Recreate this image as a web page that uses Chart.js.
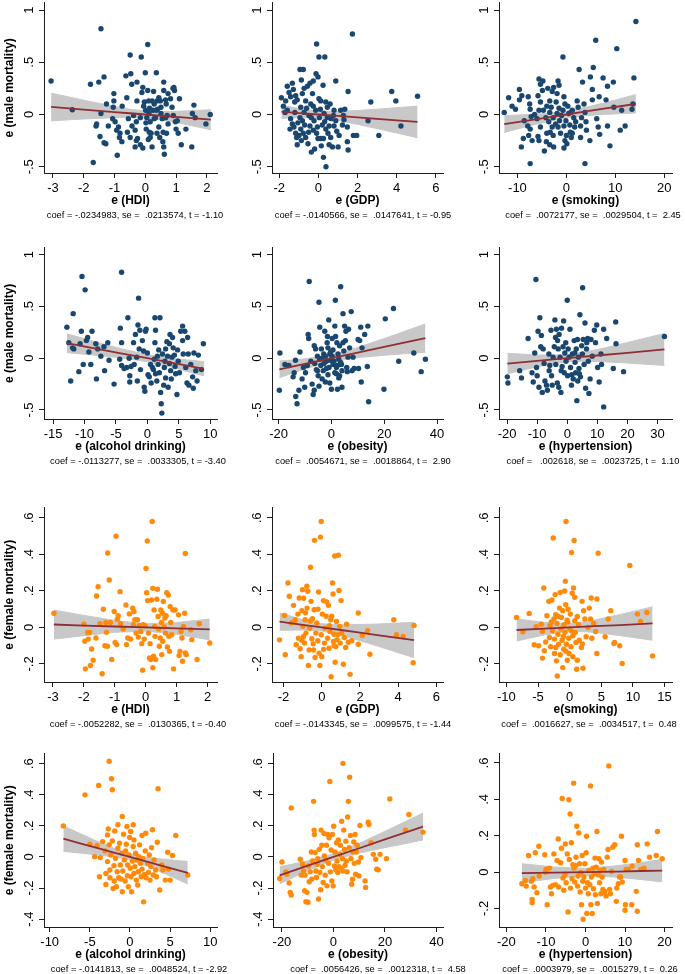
<!DOCTYPE html>
<html>
<head>
<meta charset="utf-8">
<script src="https://cdn.jsdelivr.net/npm/chart.js@4.4.1/dist/chart.umd.min.js"></script>
<style>
html, body { margin: 0; padding: 0; background: #fff; overflow: hidden; }
#wrap { position: relative; width: 685px; height: 974px; }
#wrap canvas { position: absolute; }
</style>
</head>
<body>
<div id="wrap"></div>
<script>
'use strict';

// ---- tick values and labels ----
let yTicksMale = [-0.5, 0, 0.5, 1];
let yLabelsMale = ['-.5', '0', '.5', '1'];
let yTicksFem = [-0.2, 0, 0.2, 0.4, 0.6];
let yLabelsFem = ['-.2', '0', '.2', '.4', '.6'];
let yTicksFem2 = [-0.4, -0.2, 0, 0.2, 0.4, 0.6];
let yLabelsFem2 = ['-.4', '-.2', '0', '.2', '.4', '.6'];
let xTicksHDI = [-3, -2, -1, 0, 1, 2];
let xTicksGDP = [-2, 0, 2, 4, 6];
let xTicksSmokeM = [-10, 0, 10, 20];
let xTicksAlcM = [-15, -10, -5, 0, 5, 10];
let xTicksObes = [-20, 0, 20, 40];
let xTicksHypM = [-20, -10, 0, 10, 20, 30];
let xTicksSmokeF = [-10, -5, 0, 5, 10, 15];
let xTicksAlcF = [-10, -5, 0, 5, 10];
let xTicksHypF = [-20, -10, 0, 10, 20];

let xTitles = ['e (HDI)', 'e (GDP)', 'e (smoking)', 'e (alcohol drinking)', 'e (obesity)', 'e (hypertension)',
    'e (HDI)', 'e (GDP)', 'e(smoking)', 'e (alcohol drinking)', 'e (obesity)', 'e (hypertension)'];
let yTitleMale = 'e (male mortality)';
let yTitleFem = 'e (female mortality)';
let captions = [
    'coef = -.0234983, se =  .0213574, t = -1.10',
    'coef = -.0140566, se =  .0147641, t = -0.95',
    'coef =  .0072177, se =  .0029504, t =  2.45',
    'coef = -.0113277, se =  .0033305, t = -3.40',
    'coef =  .0054671, se =  .0018864, t =  2.90',
    'coef =   .002618, se =  .0023725, t =  1.10',
    'coef = -.0052282, se =  .0130365, t = -0.40',
    'coef = -.0143345, se =  .0099575, t = -1.44',
    'coef =  .0016627, se =  .0034517, t =  0.48',
    'coef = -.0141813, se =  .0048524, t = -2.92',
    'coef =  .0056426, se =  .0012318, t =  4.58',
    'coef =  .0003979, se =  .0015279, t =  0.26'
];

// ---- scatter points [x, y] ----
let maleHDI = [[-3.06,0.32],[-2.37,0.045],[-1.78,0.29],[-1.51,0.31],[-1.44,0.82],[-1.34,0.36],[-1.26,0.10],[-1.44,0.01],[-1.58,-0.09],[-1.60,-0.11],[-1.20,-0.11],[-1.47,-0.21],[-1.34,-0.27],[-1.28,-0.28],[-1.69,-0.46],[-0.91,-0.39],[-1.02,0.20],[-1.02,0.13],[-1.04,0.07],[-1.06,-0.04],[-0.98,-0.07],[-0.93,-0.15],[-0.87,-0.12],[-0.82,-0.18],[-0.84,-0.22],[-0.76,-0.26],[-0.75,0.08],[-0.63,0.37],[-0.60,0.16],[-0.49,0.57],[-0.47,0.39],[-0.44,0.29],[-0.38,-0.01],[-0.55,-0.04],[-0.58,-0.17],[-0.49,-0.22],[-0.43,-0.11],[-0.33,-0.31],[-0.27,0.31],[-0.27,0.13],[-0.29,-0.07],[-0.33,-0.15],[-0.25,-0.23],[-0.29,-0.25],[-0.16,-0.29],[-0.13,0.55],[-0.08,0.26],[-0.11,0.21],[-0.16,-0.03],[-0.08,-0.32],[0.0,0.40],[-0.03,0.12],[-0.05,0.08],[0.01,0.04],[0.05,-0.03],[0.03,-0.14],[0.08,0.67],[0.08,0.23],[0.11,0.13],[0.14,0.06],[0.12,0.01],[0.16,-0.07],[0.13,-0.17],[0.16,-0.22],[0.22,-0.31],[0.27,0.22],[0.29,0.10],[0.25,0.04],[0.33,-0.03],[0.36,0.40],[0.38,0.13],[0.40,0.05],[0.44,-0.12],[0.38,-0.18],[0.47,-0.22],[0.49,0.13],[0.51,0.01],[0.55,-0.04],[0.58,-0.17],[0.60,0.31],[0.60,0.23],[0.57,-0.26],[0.60,-0.31],[0.62,-0.38],[0.66,0.14],[0.68,0.10],[0.71,-0.01],[0.69,-0.18],[0.74,0.20],[0.82,0.15],[0.87,0.07],[0.91,-0.01],[0.90,0.25],[0.95,0.23],[0.98,-0.07],[1.00,-0.14],[1.04,-0.06],[0.93,0.26],[1.11,0.15],[1.07,-0.18],[1.17,-0.29],[1.32,-0.14],[1.51,-0.31],[1.53,0.01],[1.58,0.09],[1.62,-0.03],[1.97,-0.09],[2.11,0.0],[0.22,0.13],[0.29,-0.04],[0.02,-0.08],[0.10,-0.24],[0.19,-0.18],[0.36,0.04],[0.44,0.16],[0.51,0.07],[0.66,-0.03],[0.74,-0.09]];

let maleGDP = [[-1.89,0.16],[-1.67,0.13],[-1.79,0.08],[-1.59,0.27],[-1.33,0.30],[-1.50,0.21],[-1.42,0.17],[-1.28,0.24],[-1.16,0.18],[-1.08,0.14],[-1.21,0.12],[-1.59,0.04],[-1.42,-0.04],[-1.33,-0.09],[-1.45,-0.14],[-1.25,-0.12],[-1.16,-0.18],[-1.11,-0.22],[-1.08,-0.29],[-0.94,0.43],[-0.77,0.43],[-0.87,0.33],[-0.73,0.25],[-0.56,0.27],[-0.43,0.30],[-0.82,0.20],[-0.65,0.13],[-0.90,0.07],[-0.73,0.02],[-0.94,-0.03],[-0.82,-0.06],[-0.70,-0.10],[-0.90,-0.14],[-0.77,-0.18],[-0.99,-0.20],[-0.65,-0.22],[-0.87,-0.25],[-0.53,-0.28],[-0.36,-0.36],[-0.19,-0.33],[-0.09,0.675],[0.03,0.55],[0.33,0.55],[-0.12,0.39],[-0.02,0.36],[-0.26,0.32],[0.24,0.28],[0.03,0.15],[0.12,0.13],[-0.39,0.10],[-0.26,0.08],[-0.14,0.04],[-0.48,-0.01],[-0.36,-0.03],[-0.22,-0.06],[-0.43,-0.11],[-0.05,-0.12],[-0.26,-0.15],[-0.09,-0.18],[0.12,-0.23],[0.26,-0.23],[-0.02,-0.23],[0.15,-0.30],[0.26,-0.41],[0.39,-0.50],[0.38,0.12],[0.46,0.07],[0.60,0.10],[0.29,0.01],[0.46,-0.03],[0.32,-0.07],[0.55,-0.11],[0.38,-0.14],[0.49,-0.18],[0.63,-0.22],[0.55,-0.29],[0.72,-0.31],[0.89,0.32],[0.80,0.04],[0.77,-0.01],[0.89,-0.06],[0.80,-0.11],[0.94,-0.16],[1.01,-0.31],[1.06,-0.20],[1.14,0.04],[1.23,-0.10],[1.35,0.05],[1.28,-0.01],[1.31,-0.05],[1.48,-0.12],[1.52,0.22],[1.48,-0.26],[1.52,-0.34],[1.74,0.77],[1.79,-0.20],[1.96,-0.20],[2.54,-0.06],[2.68,0.12],[3.09,-0.20],[3.75,0.22],[3.96,0.13],[4.22,-0.11],[5.07,0.175],[-1.70,0.02],[-1.20,0.02],[-1.05,-0.08],[-0.60,0.06],[-0.50,-0.17],[-0.30,0.20],[0.05,-0.03],[0.10,0.05],[0.20,-0.10],[0.65,-0.04]];

let maleSmoking = [[-12.7,0.02],[-11.8,0.16],[-11.1,0.08],[-10.4,0.05],[-9.6,0.24],[-9.1,0.18],[-9.6,0.14],[-8.6,-0.06],[-8.8,-0.23],[-9.2,-0.31],[-7.8,0.17],[-7.5,0.10],[-7.4,0.05],[-7.2,-0.02],[-7.9,-0.11],[-7.4,-0.14],[-7.7,-0.20],[-7.0,-0.25],[-7.4,-0.47],[-5.6,0.34],[-4.8,0.32],[-5.3,0.29],[-4.9,0.23],[-5.8,0.18],[-5.3,0.12],[-5.6,0.04],[-6.0,-0.04],[-5.3,-0.12],[-5.8,-0.21],[-5.6,-0.25],[-4.7,0.04],[-4.2,-0.03],[-4.0,-0.18],[-4.1,-0.26],[-4.5,-0.35],[-3.8,0.25],[-2.9,0.22],[-2.6,0.26],[-3.4,0.13],[-3.1,0.07],[-3.4,0.02],[-2.7,-0.03],[-3.6,-0.07],[-2.9,-0.12],[-3.3,-0.17],[-2.7,-0.20],[-3.4,-0.29],[-2.6,-0.31],[-1.7,0.32],[-1.5,0.28],[-1.9,0.20],[-2.1,0.12],[-1.5,0.06],[-1.9,0.01],[-1.4,-0.06],[-1.7,-0.12],[-1.2,-0.18],[-0.7,0.55],[-0.5,0.17],[-0.3,0.10],[-0.7,0.04],[-0.1,-0.06],[-0.5,-0.11],[0.0,-0.20],[-0.3,-0.25],[0.1,-0.28],[-0.5,-0.32],[0.5,0.01],[0.7,-0.10],[0.8,-0.17],[1.0,-0.22],[1.2,0.04],[1.5,-0.03],[1.7,-0.12],[1.2,-0.18],[2.2,0.13],[2.4,0.07],[2.6,0.43],[3.1,-0.03],[3.3,0.31],[2.9,-0.11],[2.9,-0.22],[3.6,0.10],[3.8,0.02],[4.0,-0.07],[4.1,-0.15],[3.8,-0.47],[4.9,0.36],[4.8,-0.25],[5.3,0.24],[5.3,0.14],[5.5,0.45],[6.0,0.71],[6.2,-0.04],[6.7,0.17],[6.5,-0.12],[6.8,-0.19],[7.5,0.35],[8.1,0.14],[8.4,0.27],[8.4,-0.11],[8.9,-0.30],[9.6,0.31],[9.7,0.07],[10.3,0.63],[11.0,-0.15],[11.3,0.04],[12.0,-0.11],[13.4,0.05],[13.8,0.35],[13.6,0.10],[14.2,0.89],[-6.5,0.00],[-4.0,0.08],[-2.2,-0.09],[-1.0,-0.01],[0.3,0.08],[1.9,-0.07],[0.9,0.02]];

let maleAlcohol = [[-12.8,0.30],[-12.5,0.15],[-12.2,-0.22],[-11.9,0.10],[-11.8,0.43],[-11.7,0.09],[-10.9,-0.13],[-10.7,0.14],[-10.4,0.79],[-10.5,0.26],[-10.2,-0.06],[-9.9,0.66],[-9.7,0.17],[-9.5,0.20],[-9.3,0.06],[-9.0,-0.06],[-8.8,0.26],[-8.2,0.14],[-8.1,-0.20],[-7.9,0.09],[-7.4,0.02],[-6.9,0.11],[-6.8,-0.12],[-6.3,0.15],[-6.1,-0.02],[-5.3,-0.25],[-4.4,-0.01],[-4.3,0.29],[-4.1,0.15],[-4.1,0.83],[-4.1,-0.07],[-3.7,-0.10],[-3.3,-0.09],[-3.1,0.39],[-2.9,0.00],[-2.8,-0.17],[-2.8,-0.23],[-2.6,-0.08],[-2.2,0.15],[-2.1,-0.06],[-1.9,0.23],[-1.7,0.01],[-1.6,-0.22],[-1.5,0.32],[-1.4,0.58],[-1.3,0.09],[-1.2,0.27],[-1.1,-0.11],[-0.8,0.17],[-0.6,0.07],[-0.5,-0.28],[-0.4,-0.32],[-0.3,0.26],[-0.2,0.28],[0.0,0.05],[0.1,-0.16],[0.3,-0.18],[0.5,-0.06],[0.6,-0.24],[0.8,-0.09],[0.96,-0.11],[1.1,-0.01],[1.2,0.15],[1.2,0.39],[1.3,0.27],[1.3,-0.15],[1.5,-0.22],[1.6,0.02],[1.7,-0.06],[1.8,0.08],[1.9,-0.14],[2.0,0.39],[2.1,-0.33],[2.2,-0.44],[2.3,-0.53],[2.4,0.04],[2.6,-0.26],[2.7,-0.09],[2.8,-0.03],[2.9,0.09],[2.9,-0.19],[3.1,0.16],[3.2,0.02],[3.3,-0.28],[3.5,-0.05],[3.5,0.14],[3.6,0.23],[3.7,-0.12],[3.8,-0.20],[3.9,0.01],[4.0,0.20],[4.1,0.10],[4.3,0.03],[4.4,-0.08],[4.5,-0.15],[4.7,-0.35],[4.8,0.08],[4.9,-0.03],[5.1,-0.14],[5.3,0.26],[5.6,0.31],[5.6,0.17],[5.7,0.04],[5.96,0.26],[6.1,-0.09],[6.3,-0.24],[6.4,0.20],[6.5,0.04],[6.6,-0.26],[6.9,-0.06],[7.2,-0.18],[7.3,-0.29],[7.4,0.05],[7.7,-0.12],[7.9,-0.22],[8.1,0.03],[8.9,0.14],[8.6,-0.11]];

let maleObesity = [[-19.5,0.05],[-19.7,-0.31],[-17.6,-0.06],[-16.1,-0.07],[-14.5,-0.18],[-14.1,-0.14],[-13.6,-0.02],[-13.5,-0.37],[-13.0,-0.44],[-12.3,-0.31],[-11.9,0.06],[-11.1,-0.20],[-10.6,-0.09],[-10.1,-0.28],[-9.8,-0.14],[-9.1,-0.07],[-8.8,0.23],[-8.6,0.19],[-8.4,0.74],[-7.8,-0.03],[-7.3,-0.25],[-6.9,-0.35],[-6.5,0.12],[-6.5,-0.31],[-6.0,0.09],[-5.7,-0.11],[-5.3,0.02],[-5.0,-0.17],[-4.7,0.54],[-4.4,0.30],[-4.7,-0.27],[-4.0,-0.07],[-3.8,0.09],[-3.5,-0.20],[-3.1,-0.12],[-2.9,0.04],[-2.5,0.26],[-2.3,-0.23],[-1.9,-0.03],[-1.6,0.15],[-1.5,0.21],[-1.3,-0.16],[-1.0,0.37],[-0.9,-0.09],[-0.6,-0.24],[-0.3,0.06],[0.0,-0.30],[0.3,0.19],[0.6,-0.06],[1.0,-0.03],[1.3,0.31],[1.5,0.56],[1.6,0.21],[1.9,-0.15],[2.1,0.15],[2.3,-0.30],[2.5,0.04],[2.8,-0.19],[3.1,0.12],[3.5,0.69],[3.8,-0.06],[4.0,-0.28],[4.4,0.43],[4.7,0.07],[5.0,0.31],[5.3,0.17],[5.5,0.26],[5.8,-0.09],[6.0,-0.13],[6.3,0.01],[6.5,0.28],[6.9,0.10],[7.5,0.45],[7.8,-0.12],[8.2,0.01],[8.6,-0.10],[10.1,0.18],[10.3,-0.10],[10.7,0.17],[11.1,0.30],[11.3,-0.23],[11.6,0.10],[12.6,0.23],[13.6,-0.08],[13.8,0.31],[14.1,-0.42],[19.9,-0.30],[20.4,0.38],[23.5,0.48],[25.5,-0.03],[31.2,0.05],[34.0,-0.13],[35.6,-0.01],[-6.3,-0.05],[-5.3,-0.12],[-4.4,-0.01],[-3.5,0.0],[-2.8,-0.05],[-2.3,0.02],[-1.9,-0.10],[-1.3,0.10],[-0.6,0.04],[-0.3,-0.02],[0.3,0.02],[0.6,0.08],[1.3,-0.14],[1.9,-0.09],[2.3,-0.07],[2.8,-0.01],[3.1,-0.17],[4.0,-0.12],[4.4,0.15],[3.5,-0.04]];

let maleHyper = [[-19.9,-0.18],[-19.7,-0.24],[-15.8,-0.12],[-15.2,-0.19],[-13.0,0.19],[-11.7,-0.14],[-11.3,-0.23],[-10.8,0.05],[-10.4,0.76],[-10.2,-0.09],[-10.0,-0.17],[-9.7,0.26],[-9.4,-0.28],[-9.1,0.39],[-8.8,0.11],[-8.6,0.22],[-8.3,-0.33],[-8.0,0.09],[-7.7,-0.05],[-7.4,-0.22],[-6.9,-0.26],[-6.6,-0.31],[-6.1,0.04],[-5.8,-0.07],[-5.4,0.27],[-5.2,-0.17],[-5.0,-0.26],[-4.7,0.01],[-4.3,0.11],[-4.1,0.37],[-3.9,0.20],[-3.8,-0.06],[-3.6,0.28],[-3.3,-0.24],[-3.2,0.17],[-3.0,0.09],[-2.8,-0.28],[-2.7,0.23],[-2.4,0.01],[-2.1,-0.33],[-1.9,0.29],[-1.7,-0.08],[-1.4,0.11],[-1.2,0.36],[-1.0,-0.14],[-0.8,0.05],[-0.4,-0.03],[0.0,0.56],[0.1,-0.17],[0.3,0.09],[0.6,0.01],[0.9,0.28],[1.1,-0.09],[1.4,-0.26],[1.7,0.04],[2.0,-0.20],[2.3,0.17],[2.6,-0.04],[2.8,-0.14],[3.0,0.09],[3.2,-0.41],[3.4,0.18],[3.7,0.01],[3.9,-0.10],[4.2,0.42],[4.4,-0.18],[4.8,0.12],[5.0,0.04],[5.1,0.68],[5.3,0.18],[5.6,-0.06],[5.9,0.34],[6.1,-0.29],[6.4,0.09],[6.8,0.19],[7.0,-0.03],[7.2,-0.34],[7.6,-0.20],[7.9,0.18],[8.3,0.02],[9.0,0.27],[9.4,0.15],[9.8,0.32],[10.1,-0.09],[10.6,-0.23],[11.2,0.04],[11.4,-0.06],[12.1,0.28],[12.1,-0.47],[13.1,0.19],[15.3,-0.10],[16.1,0.35],[16.2,0.14],[18.7,-0.13],[32.3,0.21],[-6.0,-0.12],[-2.0,-0.12],[1.5,-0.16],[2.5,0.05],[4.0,-0.15],[-0.5,0.15],[3.5,-0.22],[6.5,0.15]];

let femHDI = [[-2.97,0.078],[-2.0,0.018],[-1.97,-0.076],[-1.95,-0.227],[-1.88,-0.027],[-1.86,-0.064],[-1.81,-0.027],[-1.79,-0.209],[-1.75,-0.118],[-1.70,-0.18],[-1.61,-0.058],[-1.59,0.172],[-1.54,0.223],[-1.48,0.02],[-1.41,-0.254],[-1.37,0.10],[-1.32,-0.10],[-1.29,0.027],[-1.27,-0.027],[-1.24,-0.103],[-1.23,0.408],[-1.18,0.26],[-1.14,0.027],[-1.10,-0.176],[-1.02,0.087],[-0.99,-0.082],[-0.96,0.50],[-0.94,-0.094],[-0.92,0.045],[-0.89,0.064],[-0.83,0.196],[-0.81,0.02],[-0.73,-0.009],[-0.64,0.123],[-0.62,-0.094],[-0.58,-0.058],[-0.53,0.074],[-0.49,-0.064],[-0.42,0.105],[-0.40,0.015],[-0.38,0.087],[-0.35,0.042],[-0.31,-0.031],[-0.27,0.042],[-0.24,-0.053],[-0.21,0.009],[-0.16,-0.022],[-0.13,-0.089],[-0.10,-0.234],[-0.08,0.015],[-0.05,-0.064],[-0.02,0.009],[0.01,0.323],[0.03,0.19],[0.05,0.474],[0.06,0.147],[0.09,-0.031],[0.12,-0.167],[0.14,-0.089],[0.16,-0.176],[0.19,0.15],[0.21,0.58],[0.23,0.214],[0.23,-0.221],[0.25,-0.158],[0.27,0.096],[0.29,0.005],[0.30,-0.049],[0.32,-0.176],[0.36,0.154],[0.38,0.209],[0.40,0.06],[0.42,-0.009],[0.44,-0.103],[0.47,-0.058],[0.49,0.096],[0.51,0.027],[0.52,-0.149],[0.54,0.078],[0.55,-0.076],[0.57,0.142],[0.60,0.002],[0.62,0.051],[0.64,-0.031],[0.66,0.064],[0.68,0.19],[0.70,-0.107],[0.73,0.178],[0.75,-0.049],[0.77,-0.131],[0.79,0.114],[0.81,0.027],[0.84,-0.04],[0.88,0.096],[0.90,-0.227],[0.95,0.096],[1.06,0.069],[1.08,-0.154],[1.11,-0.131],[1.14,-0.022],[1.17,-0.058],[1.19,-0.185],[1.22,0.005],[1.26,0.078],[1.28,0.405],[1.28,-0.14],[1.31,-0.149],[1.46,-0.013],[1.49,-0.067],[1.66,-0.176],[1.73,0.02],[2.07,-0.085]];

let femGDP = [[-2.21,-0.068],[-1.95,0.066],[-1.91,-0.15],[-1.77,0.244],[-1.70,0.171],[-1.60,0.024],[-1.48,0.121],[-1.39,0.042],[-1.34,-0.095],[-1.25,0.073],[-1.22,-0.059],[-1.18,0.161],[-1.13,-0.117],[-1.08,-0.16],[-1.04,0.092],[-1.01,0.207],[-0.99,0.006],[-0.96,-0.05],[-0.90,-0.086],[-0.87,0.042],[-0.83,-0.031],[-0.78,0.226],[-0.77,0.106],[-0.73,0.198],[-0.70,-0.209],[-0.66,-0.123],[-0.63,-0.004],[-0.59,0.33],[-0.56,0.143],[-0.52,-0.062],[-0.49,0.048],[-0.43,-0.123],[-0.40,0.097],[-0.38,0.477],[-0.35,-0.165],[-0.31,-0.031],[-0.26,0.024],[-0.21,-0.073],[-0.17,0.194],[-0.14,-0.141],[-0.10,-0.209],[-0.07,0.495],[-0.03,0.58],[-0.03,-0.04],[0.0,-0.16],[0.03,0.073],[0.09,0.147],[0.14,-0.086],[0.17,-0.004],[0.23,0.061],[0.26,0.139],[0.31,-0.059],[0.35,0.121],[0.38,-0.114],[0.43,-0.022],[0.47,0.042],[0.49,-0.27],[0.52,0.061],[0.56,0.244],[0.59,0.183],[0.61,-0.077],[0.64,-0.037],[0.68,0.391],[0.70,-0.191],[0.73,-0.105],[0.77,0.033],[0.80,-0.068],[0.83,-0.04],[0.87,0.396],[0.90,0.202],[0.94,0.006],[0.97,-0.086],[1.01,0.147],[1.04,-0.031],[1.13,-0.202],[1.18,-0.055],[1.25,-0.11],[1.30,0.018],[1.39,-0.081],[1.48,-0.257],[1.57,-0.073],[1.91,0.079],[1.91,-0.092],[2.12,-0.044],[2.40,-0.018],[2.52,-0.147],[3.77,0.042],[3.91,-0.04],[4.26,-0.05],[4.78,-0.193],[4.83,0.011],[-1.45,0.03],[-1.05,-0.07],[-0.85,0.08],[-0.60,0.035],[-0.45,-0.09],[-0.20,0.10],[0.10,-0.12],[0.40,0.01],[0.65,-0.10],[-0.95,0.16]];

let femSmoking = [[-8.4,0.055],[-7.4,-0.024],[-6.4,0.077],[-5.6,-0.095],[-5.3,0.004],[-4.9,-0.10],[-4.5,0.018],[-4.3,-0.168],[-4.3,-0.022],[-4.1,0.216],[-4.0,-0.128],[-3.6,0.064],[-3.3,0.143],[-3.2,-0.055],[-3.1,0.009],[-3.0,-0.106],[-2.8,0.15],[-2.7,-0.018],[-2.6,0.49],[-2.5,0.046],[-2.4,-0.143],[-2.4,-0.064],[-2.3,0.18],[-2.2,0.07],[-2.1,-0.183],[-2.0,0.022],[-1.96,-0.266],[-1.85,-0.037],[-1.75,-0.092],[-1.6,0.106],[-1.5,0.192],[-1.5,-0.15],[-1.4,-0.009],[-1.3,0.055],[-1.2,-0.07],[-1.1,-0.22],[-1.1,0.092],[-0.95,-0.119],[-0.9,0.015],[-0.8,0.20],[-0.74,-0.027],[-0.69,0.253],[-0.63,0.125],[-0.58,0.58],[-0.53,-0.092],[-0.42,0.04],[-0.37,-0.18],[-0.26,0.10],[-0.16,-0.059],[-0.11,-0.143],[0.0,-0.009],[0.1,0.073],[0.2,-0.106],[0.3,0.41],[0.4,0.187],[0.5,-0.046],[0.5,-0.161],[0.6,0.216],[0.7,0.476],[0.8,0.165],[0.8,0.037],[0.9,-0.027],[1.0,-0.082],[1.1,-0.229],[1.2,-0.18],[1.4,0.015],[1.5,-0.07],[1.85,-0.11],[1.96,0.143],[2.1,-0.223],[2.2,0.092],[2.4,0.046],[2.6,-0.051],[2.9,0.0],[3.1,0.106],[3.3,0.046],[3.4,0.161],[3.5,-0.059],[3.8,0.022],[4.1,-0.022],[4.3,-0.143],[4.3,0.156],[4.5,0.407],[5.6,-0.051],[6.1,0.046],[6.5,0.092],[7.0,-0.088],[7.1,-0.082],[7.9,-0.10],[8.3,-0.198],[9.5,0.339],[10.7,0.073],[11.2,0.033],[12.2,0.082],[13.1,-0.156],[-3.8,-0.08],[-2.9,0.03],[-1.8,0.06],[-1.0,-0.05],[-0.3,0.03],[0.3,-0.02],[1.2,0.06],[2.0,-0.09],[-2.2,-0.11],[-0.6,-0.13]];

let femAlcohol = [[-8.3,0.20],[-5.6,0.40],[-5.0,0.082],[-4.4,0.002],[-4.1,0.073],[-3.9,0.46],[-3.8,-0.127],[-3.7,-0.004],[-3.4,0.099],[-3.1,0.039],[-3.0,-0.177],[-3.0,-0.106],[-2.8,-0.03],[-2.8,0.142],[-2.7,0.181],[-2.6,0.616],[-2.6,0.078],[-2.5,-0.134],[-2.5,-0.084],[-2.4,0.013],[-2.3,0.504],[-2.2,0.433],[-2.2,0.103],[-2.1,-0.203],[-2.0,-0.056],[-1.96,-0.155],[-1.9,0.168],[-1.8,-0.009],[-1.7,-0.192],[-1.6,-0.095],[-1.5,0.207],[-1.5,0.056],[-1.4,-0.134],[-1.3,0.088],[-1.2,-0.052],[-1.1,-0.142],[-1.0,0.024],[-0.96,0.261],[-0.96,-0.224],[-0.9,-0.09],[-0.8,0.147],[-0.7,-0.019],[-0.6,-0.155],[-0.54,0.039],[-0.46,0.082],[-0.38,0.196],[-0.33,-0.121],[-0.29,-0.052],[-0.2,-0.192],[-0.13,0.013],[-0.04,0.125],[0.04,-0.073],[0.08,0.164],[0.13,-0.127],[0.2,-0.224],[0.3,-0.026],[0.4,0.207],[0.4,0.067],[0.5,-0.106],[0.5,0.11],[0.6,-0.062],[0.7,0.024],[0.8,-0.149],[0.9,-0.019],[0.96,-0.181],[1.04,-0.095],[1.1,0.002],[1.2,0.078],[1.3,-0.041],[1.4,-0.127],[1.5,0.138],[1.5,-0.078],[1.6,-0.009],[1.7,-0.289],[1.8,-0.112],[1.9,0.039],[1.96,0.153],[2.0,-0.134],[2.2,-0.041],[2.3,-0.099],[2.4,0.013],[2.5,-0.149],[2.6,-0.062],[2.7,0.06],[2.8,0.175],[2.9,-0.116],[3.0,-0.019],[3.2,-0.084],[3.3,-0.127],[3.4,0.095],[3.5,0.44],[3.7,-0.213],[3.96,-0.052],[4.1,-0.084],[4.4,-0.149],[4.7,0.03],[4.8,-0.078],[5.0,-0.149],[5.3,0.009],[5.7,0.138],[7.2,-0.116]];

let femObesity = [[-20.9,-0.139],[-20.0,-0.032],[-18.5,-0.096],[-18.1,-0.111],[-17.2,-0.168],[-16.8,-0.228],[-16.4,-0.245],[-16.4,0.316],[-12.9,-0.015],[-12.5,-0.117],[-12.0,-0.047],[-11.6,-0.09],[-11.2,-0.217],[-11.0,-0.117],[-10.7,-0.288],[-10.3,-0.228],[-9.9,-0.292],[-9.7,-0.058],[-9.4,-0.16],[-9.0,-0.096],[-8.6,0.032],[-8.4,-0.143],[-8.1,-0.026],[-7.7,0.358],[-7.5,0.173],[-7.4,0.145],[-7.1,0.028],[-6.8,-0.09],[-6.6,-0.132],[-6.3,-0.047],[-6.1,-0.011],[-5.8,-0.271],[-5.5,0.049],[-5.3,-0.10],[-5.0,-0.211],[-4.8,0.173],[-4.5,0.075],[-4.3,-0.062],[-4.0,-0.164],[-3.7,0.151],[-3.5,0.006],[-3.2,-0.117],[-3.0,-0.019],[-2.7,0.075],[-2.5,-0.186],[-2.2,0.145],[-1.9,-0.041],[-1.7,0.124],[-1.4,0.486],[-1.2,-0.096],[-0.9,0.045],[-0.6,-0.154],[-0.4,0.145],[-0.1,-0.186],[0.1,0.198],[0.4,-0.058],[0.6,0.032],[0.9,-0.083],[1.2,0.092],[1.4,-0.026],[1.7,-0.10],[1.9,0.109],[2.2,-0.062],[2.5,0.017],[2.7,0.075],[3.0,-0.075],[3.2,0.23],[3.5,-0.011],[3.7,0.603],[3.7,-0.09],[4.0,0.173],[4.3,0.049],[4.5,-0.053],[4.8,0.102],[5.0,-0.026],[5.3,-0.096],[5.5,0.258],[5.8,0.358],[6.1,0.06],[6.3,0.514],[6.6,0.139],[6.8,-0.011],[7.1,-0.175],[7.4,-0.143],[7.6,0.032],[7.9,0.096],[8.1,-0.041],[8.4,0.145],[8.6,-0.111],[8.9,0.032],[9.2,0.075],[9.7,-0.032],[9.9,-0.122],[10.3,0.203],[10.7,-0.004],[12.3,-0.154],[12.5,-0.196],[13.5,0.224],[13.8,0.209],[14.6,0.092],[15.5,0.017],[16.4,-0.015],[16.8,-0.079],[17.4,-0.083],[18.1,0.017],[20.6,-0.011],[21.9,0.373],[28.0,0.173],[29.3,0.273],[34.8,0.16]];

let femHyper = [[-16.1,-0.064],[-15.2,-0.046],[-15.0,-0.077],[-14.4,0.091],[-13.7,-0.051],[-13.5,-0.15],[-13.5,-0.168],[-13.3,-0.036],[-13.0,-0.082],[-12.7,0.106],[-12.3,-0.113],[-11.8,0.142],[-11.7,-0.022],[-10.3,0.095],[-10.1,0.0],[-10.0,0.015],[-9.7,-0.179],[-9.5,0.018],[-9.1,0.022],[-8.9,-0.082],[-8.6,-0.119],[-8.3,-0.073],[-8.0,0.10],[-7.6,-0.069],[-7.2,0.064],[-6.9,0.182],[-6.8,-0.082],[-6.3,0.051],[-6.1,0.131],[-5.9,0.405],[-5.7,-0.033],[-5.5,-0.10],[-5.2,-0.015],[-5.1,0.155],[-4.9,-0.058],[-4.6,0.10],[-4.4,-0.219],[-4.2,0.398],[-4.1,0.069],[-3.9,0.319],[-3.8,-0.088],[-3.6,0.161],[-3.4,-0.036],[-3.2,0.04],[-3.0,0.489],[-2.9,0.022],[-2.7,-0.055],[-2.5,0.036],[-2.4,0.082],[-2.2,0.252],[-2.0,-0.077],[-1.9,-0.022],[-1.7,0.215],[-1.5,0.046],[-1.35,-0.109],[-1.2,-0.004],[-1.0,-0.179],[-0.85,0.091],[-0.7,-0.051],[-0.6,-0.259],[-0.4,-0.027],[-0.17,0.046],[0.0,-0.088],[0.17,0.106],[0.25,0.197],[0.34,-0.228],[0.5,-0.058],[0.7,-0.119],[0.85,0.009],[1.1,-0.069],[1.27,0.474],[1.35,-0.179],[1.5,-0.027],[1.7,-0.228],[1.86,0.022],[2.0,-0.091],[2.2,-0.009],[2.4,0.077],[2.5,-0.124],[2.7,0.027],[2.9,0.223],[3.0,-0.173],[3.2,-0.015],[3.4,0.073],[3.55,-0.058],[3.7,0.009],[3.9,-0.119],[4.06,0.055],[4.2,-0.027],[4.4,-0.095],[4.6,0.015],[4.9,-0.106],[5.2,-0.131],[5.5,0.082],[5.7,0.124],[5.9,0.584],[6.1,-0.095],[6.3,-0.119],[6.6,0.004],[6.9,0.137],[7.4,0.15],[7.8,-0.161],[7.9,-0.088],[8.3,-0.064],[8.6,-0.027],[8.9,-0.027],[9.1,0.197],[9.3,-0.055],[10.0,0.064],[10.0,-0.21],[10.1,-0.179],[10.3,0.015],[10.8,0.015],[11.7,-0.179],[11.8,0.033],[12.85,-0.106],[13.1,0.15],[13.1,-0.215],[13.4,0.064],[14.0,0.015],[14.8,0.022],[15.6,0.155],[16.2,0.082],[17.9,0.091],[18.2,0.223],[19.4,0.073]];

// ---- fitted line with 95% band: [x, lower, fit, upper] ----
let maleHDIFit = [[-3.06,-0.061,0.072,0.205],[-2,-0.043,0.047,0.137],[-1,-0.030,0.0235,0.077],[-0.5,-0.027,0.012,0.050],[0,-0.032,0,0.032],[0.5,-0.050,-0.012,0.027],[1,-0.077,-0.0235,0.030],[2.13,-0.145,-0.050,0.045]];
let maleGDPFit = [[-1.89,-0.037,0.027,0.090],[-1,-0.029,0.014,0.057],[0,-0.032,0,0.032],[1,-0.057,-0.014,0.029],[2,-0.095,-0.028,0.038],[3,-0.135,-0.042,0.051],[4,-0.177,-0.056,0.065],[5.07,-0.223,-0.071,0.080]];
let maleSmokingFit = [[-12.7,-0.172,-0.092,-0.011],[-8,-0.114,-0.058,-0.001],[-4,-0.069,-0.029,0.011],[0,-0.032,0,0.032],[4,-0.011,0.029,0.069],[8,0.001,0.058,0.114],[11,0.008,0.079,0.151],[14.2,0.014,0.102,0.191]];
let maleAlcoholFit = [[-12.8,0.054,0.145,0.236],[-8,0.027,0.091,0.154],[-4,0.002,0.045,0.089],[0,-0.035,0,0.035],[4,-0.089,-0.045,-0.002],[9,-0.171,-0.102,-0.033]];
let maleObesityFit = [[-19.7,-0.188,-0.108,-0.028],[-10,-0.104,-0.055,-0.006],[0,-0.032,0,0.032],[10,0.006,0.055,0.104],[20,0.028,0.109,0.190],[28,0.044,0.153,0.262],[35.6,0.058,0.195,0.331]];
let maleHyperFit = [[-19.9,-0.151,-0.052,0.047],[-10,-0.083,-0.026,0.031],[0,-0.032,0,0.032],[10,-0.031,0.026,0.083],[20,-0.047,0.052,0.152],[32.3,-0.070,0.085,0.239]];
let femHDIFit = [[-2.97,-0.064,0.016,0.095],[-2,-0.045,0.010,0.066],[-1,-0.027,0.005,0.038],[0,-0.020,0,0.020],[1,-0.038,-0.005,0.027],[2.07,-0.068,-0.011,0.046]];
let femGDPFit = [[-2.21,-0.016,0.032,0.080],[-1,-0.014,0.014,0.042],[0,-0.020,0,0.020],[1,-0.042,-0.014,0.014],[2,-0.073,-0.029,0.016],[3,-0.105,-0.043,0.019],[4.83,-0.166,-0.069,0.028]];
let femSmokingFit = [[-8.4,-0.075,-0.014,0.047],[-4,-0.041,-0.007,0.027],[0,-0.020,0,0.020],[4,-0.027,0.007,0.041],[8,-0.045,0.013,0.071],[13.1,-0.070,0.022,0.113]];
let femAlcoholFit = [[-8.3,0.036,0.118,0.200],[-6,0.024,0.085,0.146],[-4,0.013,0.057,0.100],[-2,0.001,0.028,0.056],[0,-0.020,0,0.020],[2,-0.056,-0.028,-0.001],[4,-0.100,-0.057,-0.013],[7.2,-0.174,-0.102,-0.030]];
let femObesityFit = [[-20.9,-0.173,-0.118,-0.063],[-10,-0.088,-0.056,-0.025],[0,-0.020,0,0.020],[10,0.025,0.056,0.088],[20,0.060,0.113,0.165],[34.8,0.109,0.196,0.283]];
let femHyperFit = [[-16.1,-0.059,-0.006,0.046],[-8,-0.035,-0.003,0.028],[0,-0.020,0,0.020],[8,-0.028,0.003,0.035],[14,-0.041,0.006,0.052],[19.4,-0.054,0.008,0.070]];

// ---- look ----
const NAVY = '#1a476f';
const ORANGE = '#ff8a0a';
const MAROON = '#8e2f36';
const BAND = '#c8c8c8';
const AXIS = '#1e1e1e';
const FONT = '"Liberation Sans", Arial, Helvetica, sans-serif';

// canvas columns (left, right) in page px
const colL = [0, 226, 454];
const colR = [230, 472, 685];

// box: [column, plot left, plot right, plot top, plot bottom]
let panels = [
    { pts: maleHDI, fit: maleHDIFit, xt: xTicksHDI, yt: yTicksMale, yl: yLabelsMale, xr: [-3.29, 2.33], yr: [-0.56, 1.07], c: NAVY, yTitle: yTitleMale, box: [0, 44, 217, 2, 173], capX: 135 },
    { pts: maleGDP, fit: maleGDPFit, xt: xTicksGDP, yt: yTicksMale, yl: yLabelsMale, xr: [-2.37, 6.37], yr: [-0.56, 1.07], c: NAVY, box: [1, 272, 443, 2, 173], capX: 363 },
    { pts: maleSmoking, fit: maleSmokingFit, xt: xTicksSmokeM, yt: yTicksMale, yl: yLabelsMale, xr: [-13.77, 21.58], yr: [-0.56, 1.07], c: NAVY, box: [2, 499, 672, 2, 173], capX: 593 },
    { pts: maleAlcohol, fit: maleAlcoholFit, xt: xTicksAlcM, yt: yTicksMale, yl: yLabelsMale, xr: [-16.44, 11.07], yr: [-0.587, 1.067], c: NAVY, yTitle: yTitleMale, box: [0, 44, 217, 247, 419], capX: 138 },
    { pts: maleObesity, fit: maleObesityFit, xt: xTicksObes, yt: yTicksMale, yl: yLabelsMale, xr: [-22.49, 42.26], yr: [-0.587, 1.067], c: NAVY, box: [1, 272, 443, 247, 419], capX: 363 },
    { pts: maleHyper, fit: maleHyperFit, xt: xTicksHypM, yt: yTicksMale, yl: yLabelsMale, xr: [-22.67, 34.8], yr: [-0.587, 1.067], c: NAVY, box: [2, 499, 672, 247, 419], capX: 593 },
    { pts: femHDI, fit: femHDIFit, xt: xTicksHDI, yt: yTicksFem, yl: yLabelsFem, xr: [-3.29, 2.305], yr: [-0.299, 0.656], c: ORANGE, yTitle: yTitleFem, box: [0, 44, 217, 507, 682], capX: 138 },
    { pts: femGDP, fit: femGDPFit, xt: xTicksGDP, yt: yTicksFem, yl: yLabelsFem, xr: [-2.605, 6.344], yr: [-0.299, 0.656], c: ORANGE, box: [1, 272, 443, 507, 682], capX: 363 },
    { pts: femSmoking, fit: femSmokingFit, xt: xTicksSmokeF, yt: yTicksFem, yl: yLabelsFem, xr: [-11.17, 16.17], yr: [-0.299, 0.656], c: ORANGE, box: [2, 499, 672, 507, 682], capX: 589 },
    { pts: femAlcohol, fit: femAlcoholFit, xt: xTicksAlcF, yt: yTicksFem2, yl: yLabelsFem2, xr: [-10.71, 10.84], yr: [-0.451, 0.665], c: ORANGE, yTitle: yTitleFem, box: [0, 44, 217, 753, 927], capX: 139 },
    { pts: femObesity, fit: femObesityFit, xt: xTicksObes, yt: yTicksFem2, yl: yLabelsFem2, xr: [-23.48, 42.56], yr: [-0.451, 0.665], c: ORANGE, box: [1, 273, 443, 753, 927], capX: 378 },
    { pts: femHyper, fit: femHyperFit, xt: xTicksHypF, yt: yTicksFem, yl: yLabelsFem, xr: [-21.88, 21.88], yr: [-0.302, 0.651], c: ORANGE, box: [2, 499, 672, 753, 927], capX: 590 }
];

function textPlugin(p, i, cl) {
    return {
        id: 'stataText' + i,
        afterDraw(chart) {
            let ctx = chart.ctx;
            let ca = chart.chartArea;
            let xs = chart.scales.x;
            let ys = chart.scales.y;
            ctx.save();
            ctx.fillStyle = '#000';
            ctx.textAlign = 'center';
            ctx.textBaseline = 'middle';
            ctx.font = '13px ' + FONT;
            p.xt.forEach(v => {
                ctx.fillText(String(v), xs.getPixelForValue(v), ca.bottom + 15);
            });
            p.yt.forEach((v, k) => {
                ctx.save();
                ctx.translate(ca.left - 15, ys.getPixelForValue(v));
                ctx.rotate(-Math.PI / 2);
                ctx.fillText(p.yl[k], 0, 0);
                ctx.restore();
            });
            ctx.font = 'bold 12px ' + FONT;
            ctx.fillText(xTitles[i], (ca.left + ca.right) / 2, ca.bottom + 28);
            if (p.yTitle) {
                ctx.save();
                ctx.translate(ca.left - 34, (ca.top + ca.bottom) / 2);
                ctx.rotate(-Math.PI / 2);
                ctx.fillText(p.yTitle, 0, 0);
                ctx.restore();
            }
            ctx.font = '9.3px ' + FONT;
            ctx.fillText(captions[i], p.capX - cl, ca.bottom + 42);
            ctx.restore();
        }
    };
}

let wrap = document.getElementById('wrap');

panels.forEach((p, i) => {
    let [col, pl, pr, pt, pb] = p.box;
    let cl = colL[col];
    let cr = colR[col];
    let ct = pt - 2;
    let cb = Math.min(pb + 49, 974);
    let cv = document.createElement('canvas');
    cv.width = cr - cl;
    cv.height = cb - ct;
    cv.style.left = cl + 'px';
    cv.style.top = ct + 'px';
    cv.style.width = (cr - cl) + 'px';
    cv.style.height = (cb - ct) + 'px';
    wrap.appendChild(cv);

    new Chart(cv, {
        type: 'scatter',
        data: {
            datasets: [
                {
                    data: p.fit.map(r => ({ x: r[0], y: r[2] })),
                    showLine: true, borderColor: MAROON, borderWidth: 1.8,
                    pointRadius: 0, fill: false, order: 0
                },
                {
                    data: p.pts.map(r => ({ x: r[0], y: r[1] })),
                    pointRadius: 2.7, pointHoverRadius: 2.7,
                    backgroundColor: p.c, borderWidth: 0, order: 1
                },
                {
                    data: p.fit.map(r => ({ x: r[0], y: r[3] })),
                    showLine: true, borderColor: BAND, borderWidth: 1,
                    pointRadius: 0, fill: '+1', backgroundColor: BAND, order: 2
                },
                {
                    data: p.fit.map(r => ({ x: r[0], y: r[1] })),
                    showLine: true, borderColor: BAND, borderWidth: 1,
                    pointRadius: 0, fill: false, order: 3
                }
            ]
        },
        options: {
            responsive: false,
            animation: false,
            devicePixelRatio: 1,
            events: [],
            layout: { padding: { left: 0, top: pt - ct, right: cr - pr, bottom: 0 } },
            plugins: { legend: { display: false }, tooltip: { enabled: false } },
            scales: {
                x: {
                    type: 'linear', position: 'bottom', min: p.xr[0], max: p.xr[1],
                    afterBuildTicks: s => { s.ticks = p.xt.map(v => ({ value: v })); },
                    afterFit: s => { s.height = cb - pb; },
                    ticks: { display: false },
                    grid: { display: true, drawOnChartArea: false, drawTicks: true, tickLength: 5, color: AXIS, lineWidth: 1 },
                    border: { display: true, color: AXIS, width: 1 }
                },
                y: {
                    type: 'linear', position: 'left', min: p.yr[0], max: p.yr[1],
                    afterBuildTicks: s => { s.ticks = p.yt.map(v => ({ value: v })); },
                    afterFit: s => { s.width = pl - cl; },
                    ticks: { display: false },
                    grid: { display: true, drawOnChartArea: false, drawTicks: true, tickLength: 5, color: AXIS, lineWidth: 1 },
                    border: { display: true, color: AXIS, width: 1 }
                }
            }
        },
        plugins: [textPlugin(p, i, cl)]
    });
});
</script>
</body>
</html>
